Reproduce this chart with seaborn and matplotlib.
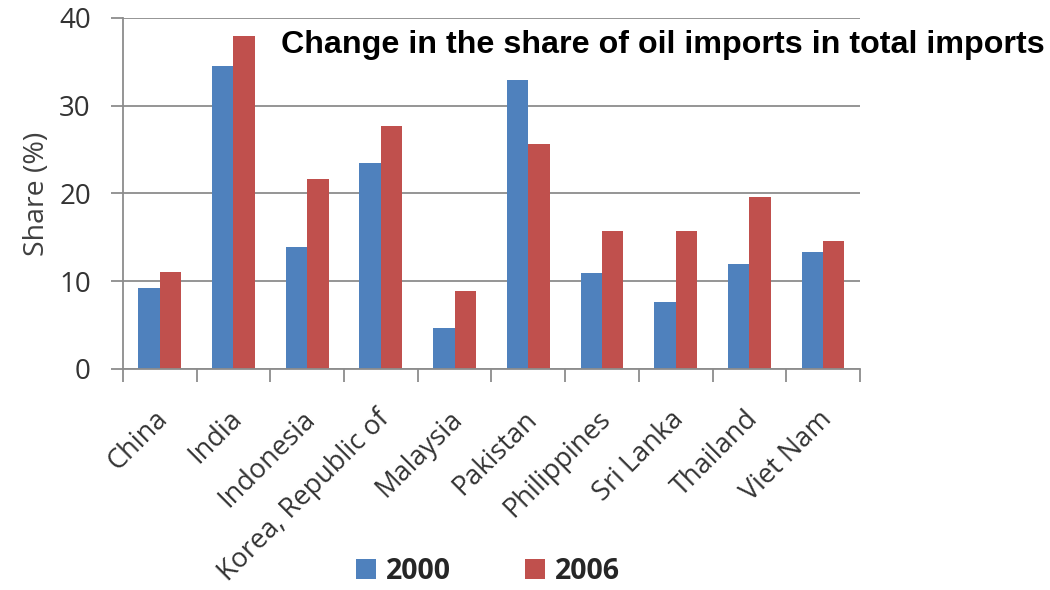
import matplotlib
matplotlib.use("Agg")
import matplotlib.pyplot as plt
from matplotlib.ticker import FixedLocator, MultipleLocator
from matplotlib.patches import Patch
from matplotlib.transforms import ScaledTranslation
import seaborn as sns
import pandas as pd
import numpy as np

countries = ["China", "India", "Indonesia", "Korea, Republic of", "Malaysia",
             "Pakistan", "Philippines", "Sri Lanka", "Thailand", "Viet Nam"]
share_2000 = [9.2, 34.5, 13.9, 23.5, 4.7, 32.9, 10.9, 7.6, 12.0, 13.3]
share_2006 = [11.0, 37.9, 21.7, 27.7, 8.9, 25.6, 15.7, 15.7, 19.6, 14.6]
years = ["2000", "2006"]
colors = ["#4F81BD", "#C0504D"]

df = pd.DataFrame({
    "country": countries * 2,
    "share": share_2000 + share_2006,
    "year": [years[0]] * len(countries) + [years[1]] * len(countries),
})

sns.set_theme(style="white")
plt.rcParams["font.family"] = ["Open Sans", "DejaVu Sans"]

fig = plt.figure(figsize=(10.5, 5.9), dpi=100)
ax = fig.add_axes([0.117, 0.3746, 0.702, 0.595])

sns.barplot(data=df, x="country", y="share", hue="year", order=countries,
            hue_order=years, palette=colors, width=0.58, saturation=1,
            linewidth=0, ax=ax, legend=False)

ax.set_ylim(0, 40)
ax.set_xlim(-0.5, len(countries) - 0.5)
ax.yaxis.set_major_locator(MultipleLocator(10))
ax.grid(axis="y", color="#8c8c8c", linewidth=1.3)
ax.set_axisbelow(True)

for side in ["top", "right"]:
    ax.spines[side].set_visible(False)
for side in ["left", "bottom"]:
    ax.spines[side].set_color("#8c8c8c")
    ax.spines[side].set_linewidth(1.3)

# Category boundary tick marks on the x axis
ax.xaxis.set_minor_locator(FixedLocator(np.arange(-0.5, len(countries), 1.0)))
ax.tick_params(axis="x", which="minor", bottom=True, length=9, width=1.3,
               color="#8c8c8c", direction="out")
ax.tick_params(axis="x", which="major", bottom=False, pad=20)
ax.tick_params(axis="y", which="major", left=True, length=9, width=1.3,
               color="#8c8c8c", direction="out", pad=14)

ax.set_xticks(range(len(countries)))
ax.set_xticklabels(countries, rotation=45, ha="right", rotation_mode="anchor",
                   fontsize=19.5, color="#333333")
shift = ScaledTranslation(-4 / 72, 0, fig.dpi_scale_trans)
for lbl in ax.get_xticklabels():
    lbl.set_transform(lbl.get_transform() + shift)
for lbl in ax.get_yticklabels():
    lbl.set_fontsize(20)
    lbl.set_color("#333333")

ax.set_xlabel("")
ax.set_ylabel("Share (%)", fontsize=20.5, color="#404040", labelpad=6)

fig.text(0.995, 0.91, "Change in the share of oil imports in total imports",
         ha="right", va="baseline", fontsize=23.2, fontweight="bold",
         family=["Liberation Sans", "DejaVu Sans"], color="black")

handles = [Patch(facecolor=c, edgecolor="none") for c in colors]
fig.legend(handles, years, loc="center", bbox_to_anchor=(0.465, 0.032),
           ncol=2, frameon=False, handlelength=0.7, handleheight=0.7,
           handletextpad=0.35, columnspacing=2.6, borderpad=0,
           prop={"size": 20.5, "weight": "bold", "family": ["Open Sans", "DejaVu Sans"]})

fig.savefig("out.png", dpi=100, facecolor="white")
